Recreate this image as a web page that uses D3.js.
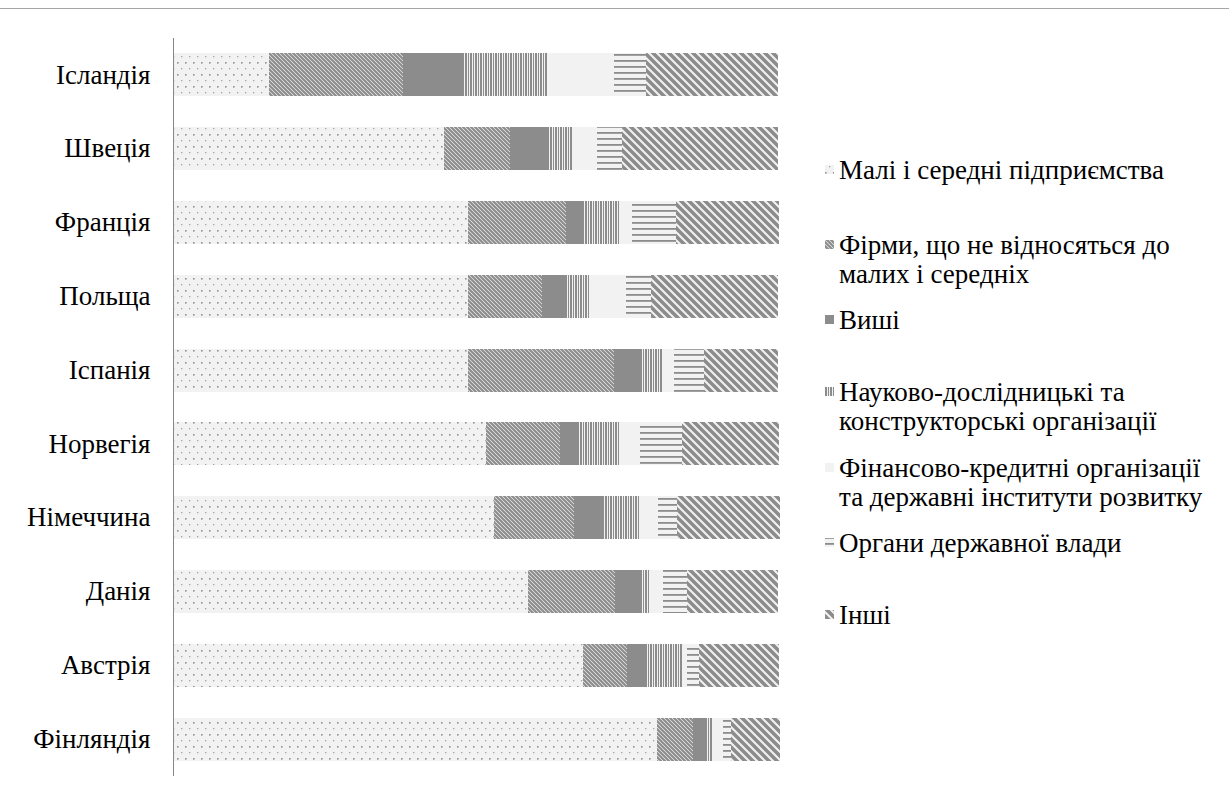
<!DOCTYPE html>
<html>
<head>
<meta charset="utf-8">
<script src="https://cdn.jsdelivr.net/npm/d3@7/dist/d3.min.js"></script>
<style>
  html, body { margin: 0; padding: 0; background: #fff; }
  svg { display: block; }
  svg text, svg tspan { font-family: "Liberation Serif", "Times New Roman", serif; }
</style>
</head>
<body>
<svg id="chart" width="1229" height="796"></svg>
<script>
// Countries, top to bottom
const countries = ["Ісландія", "Швеція", "Франція", "Польща", "Іспанія",
                   "Норвегія", "Німеччина", "Данія", "Австрія", "Фінляндія"];

// Series names (legend lines split where they wrap)
const seriesNames = [
  ["Малі і середні підприємства"],
  ["Фірми, що не відносяться до", "малих і середніх"],
  ["Виші"],
  ["Науково-дослідницькі та", "конструкторські організації"],
  ["Фінансово-кредитні організації", "та державні інститути розвитку"],
  ["Органи державної влади"],
  ["Інші"]
];

// Shares, %, one array per series in country order
const smeShare      = [15.8, 44.8, 48.7, 48.7, 48.7, 51.7, 52.9, 58.5, 67.7, 79.9];
const largeFirms    = [22.1, 10.8, 16.2, 12.2, 24.1, 12.2, 13.2, 14.4,  7.2,  5.9];
const universities  = [10.0,  6.4,  2.9,  4.0,  4.2,  3.0,  4.8,  4.2,  3.1,  2.4];
const rdOrgs        = [14.0,  3.9,  5.9,  3.8,  3.9,  6.8,  6.0,  1.6,  6.1,  0.9];
const finInst       = [10.9,  4.0,  2.1,  6.1,  1.8,  3.3,  3.1,  2.2,  0.7,  1.7];
const government    = [ 5.2,  4.2,  7.2,  4.0,  5.0,  7.0,  3.1,  4.0,  2.0,  1.3];
const others        = [21.9, 25.8, 17.0, 21.1, 12.1, 16.0, 17.0, 15.0, 13.2,  8.0];

const seriesValues = [smeShare, largeFirms, universities, rdOrgs, finInst, government, others];
const keys = ["sme", "large", "univ", "rd", "fin", "gov", "oth"];

const rows = countries.map((c, i) => {
  const r = { country: c };
  keys.forEach((k, j) => { r[k] = seriesValues[j][i]; });
  return r;
});

const FONT = "Liberation Serif";
const svg = d3.select("#chart");
const defs = svg.append("defs");
const GRAY = "#8c8c8c", LIGHT = "#f2f2f2";

// --- fill patterns ---
function pattern(id, w, h, build) {
  const p = defs.append("pattern").attr("id", id)
    .attr("patternUnits", "userSpaceOnUse").attr("width", w).attr("height", h);
  build(p);
}
// sparse dots on light gray
pattern("p-sme", 8, 12, p => {
  p.append("rect").attr("width", 8).attr("height", 12).attr("fill", LIGHT);
  p.append("rect").attr("x", 1).attr("y", 2).attr("width", 1.6).attr("height", 1.6).attr("fill", "#919191");
  p.append("rect").attr("x", 5).attr("y", 8).attr("width", 1.3).attr("height", 1.3).attr("fill", "#a3a3a3");
});
// narrow downward diagonal
pattern("p-large", 4, 4, p => {
  p.append("rect").attr("width", 4).attr("height", 4).attr("fill", LIGHT);
  p.append("path").attr("d", "M-1,-1 L5,5 M-1,3 L1,5 M3,-1 L5,1")
    .attr("stroke", GRAY).attr("stroke-width", 2.2);
});
// solid
pattern("p-univ", 4, 4, p => {
  p.append("rect").attr("width", 4).attr("height", 4).attr("fill", GRAY);
});
// vertical lines
pattern("p-rd", 5, 4, p => {
  p.append("rect").attr("width", 5).attr("height", 4).attr("fill", LIGHT);
  p.append("rect").attr("x", 0).attr("width", 2).attr("height", 4).attr("fill", GRAY);
  p.append("rect").attr("x", 3).attr("width", 1).attr("height", 4).attr("fill", GRAY);
});
// solid light
pattern("p-fin", 4, 4, p => {
  p.append("rect").attr("width", 4).attr("height", 4).attr("fill", LIGHT);
});
// horizontal lines
pattern("p-gov", 4, 6, p => {
  p.append("rect").attr("width", 4).attr("height", 6).attr("fill", LIGHT);
  p.append("rect").attr("y", 0).attr("width", 4).attr("height", 1.8).attr("fill", GRAY);
});
// wide downward diagonal
pattern("p-oth", 8, 8, p => {
  p.append("rect").attr("width", 8).attr("height", 8).attr("fill", LIGHT);
  p.append("path").attr("d", "M-2,-2 L10,10 M-2,6 L2,10 M6,-2 L10,2")
    .attr("stroke", GRAY).attr("stroke-width", 3.6);
});

// top border of the chart frame
svg.append("line").attr("x1", 0).attr("x2", 1229).attr("y1", 8.5).attr("y2", 8.5)
  .attr("stroke", "#a6a6a6").attr("stroke-width", 1);

// --- scales ---
const x = d3.scaleLinear().domain([0, 100]).range([173, 779]);
const y = d3.scaleBand().domain(countries).range([38, 776]).paddingInner(0.42).paddingOuter(0.21);

const stack = d3.stack().keys(keys)(rows);

svg.append("g").selectAll("g")
  .data(stack).join("g")
  .attr("fill", (d, i) => `url(#p-${keys[i]})`)
  .selectAll("rect")
  .data(d => d).join("rect")
  .attr("x", d => x(d[0]))
  .attr("width", d => x(d[1]) - x(d[0]))
  .attr("y", d => y(d.data.country))
  .attr("height", y.bandwidth())
  .attr("shape-rendering", "crispEdges");

// category axis
const yAxis = svg.append("g").attr("transform", "translate(173.5,0)")
  .call(d3.axisLeft(y).tickSize(0).tickPadding(23));
yAxis.attr("font-family", FONT).attr("font-size", 27);
yAxis.select(".domain").attr("stroke", "#868686").attr("d", "M0,38V776");
yAxis.selectAll("text").attr("fill", "#000");

// --- legend ---
const legendRows = [170, 245, 320, 392, 468, 543, 615];
const legend = svg.append("g").attr("font-family", FONT).attr("font-size", 27);
seriesNames.forEach((lines, i) => {
  const g = legend.append("g").attr("transform", `translate(0,${legendRows[i]})`);
  g.append("rect").attr("x", 825).attr("y", -5).attr("width", 9).attr("height", 9)
    .attr("fill", `url(#p-${keys[i]})`);
  const t = g.append("text").attr("x", 839).attr("y", 9).attr("fill", "#000");
  lines.forEach((ln, k) => {
    t.append("tspan").attr("x", 839).attr("dy", k === 0 ? 0 : 29).text(ln);
  });
});
</script>
</body>
</html>
